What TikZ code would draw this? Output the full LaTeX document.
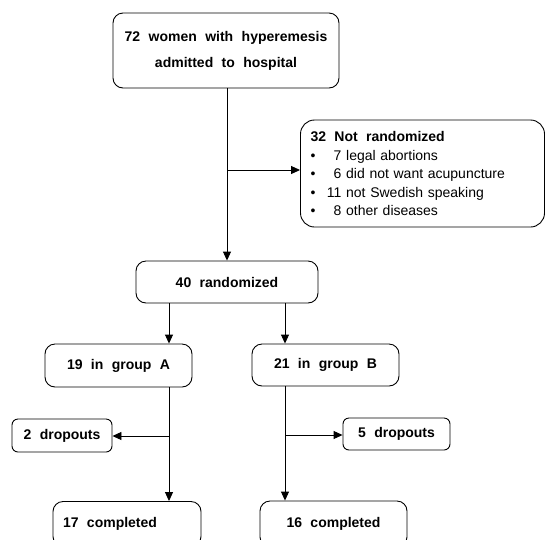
\documentclass[tikz,border=0pt]{standalone}
\usepackage{fontspec}
\setmainfont{Liberation Sans}
\usetikzlibrary{arrows.meta}
\newcommand{\widesp}{\spaceskip=0.6em plus 0.1em\relax}
\newcommand{\nritem}[2]{\makebox[12pt][l]{\textbullet}\makebox[19pt][r]{#1} #2}
\tikzset{
  box/.style={draw, line width=0.9pt, rounded corners=10pt, inner sep=0pt, align=center,
    font=\fontsize{14}{26}\selectfont\bfseries\widesp},
  smallbox/.style={box, rounded corners=6pt},
  arr/.style={-{Triangle[length=9pt,width=8pt]}, line width=0.9pt},
}

\begin{document}
\begin{tikzpicture}[x=1pt,y=-1pt]
\clip (0,0) rectangle (546,539);
% boxes
\node[box, minimum width=226pt, minimum height=75pt] (adm) at (226,50.5) {72 women with hyperemesis\\admitted to hospital};
\node[box, rounded corners=14pt, minimum width=244pt, minimum height=107pt, text width=224pt, align=left,
  font=\fontsize{14}{18.5}\selectfont] (notr) at (422.5,173.5)
  {\textbf{\widesp 32 Not randomized}\\
   \nritem{7}{legal abortions}\\
   \nritem{6}{did not want acupuncture}\\
   \nritem{11}{not Swedish speaking}\\
   \nritem{8}{other diseases}};
\node[box, minimum width=182pt, minimum height=42pt] (rand) at (227,282) {40 randomized};
\node[box, minimum width=147pt, minimum height=43pt] (grpA) at (118.5,365.5) {19 in group A};
\node[box, minimum width=147pt, minimum height=42pt] (grpB) at (325.5,365) {21 in group B};
\node[smallbox, minimum width=100pt, minimum height=33pt] (dropA) at (62,435.5) {2 dropouts};
\node[smallbox, minimum width=107pt, minimum height=32pt] (dropB) at (396.5,434) {5 dropouts};
\node[box, minimum width=148pt, minimum height=45pt, text width=128pt, align=left] (compA) at (127,524) {\widesp 17 completed};
\node[box, minimum width=147pt, minimum height=46pt] (compB) at (333.5,524) {16 completed};
% connectors
\coordinate (split) at (227,170);
\coordinate (colA) at (169,436);
\coordinate (colB) at (285,435);
\draw[arr] (adm.south -| split) -- (rand.north -| split);
\draw[arr] (split) -- (split -| notr.west);
\draw[arr] (rand.south -| colA) -- (grpA.north -| colA);
\draw[arr] (rand.south -| colB) -- (grpB.north -| colB);
\draw[arr] (grpA.south -| colA) -- (compA.north -| colA);
\draw[arr] (grpB.south -| colB) -- (compB.north -| colB);
\draw[arr] (colA) -- (colA -| dropA.east);
\draw[arr] (colB) -- (colB -| dropB.west);
\end{tikzpicture}
\end{document}
